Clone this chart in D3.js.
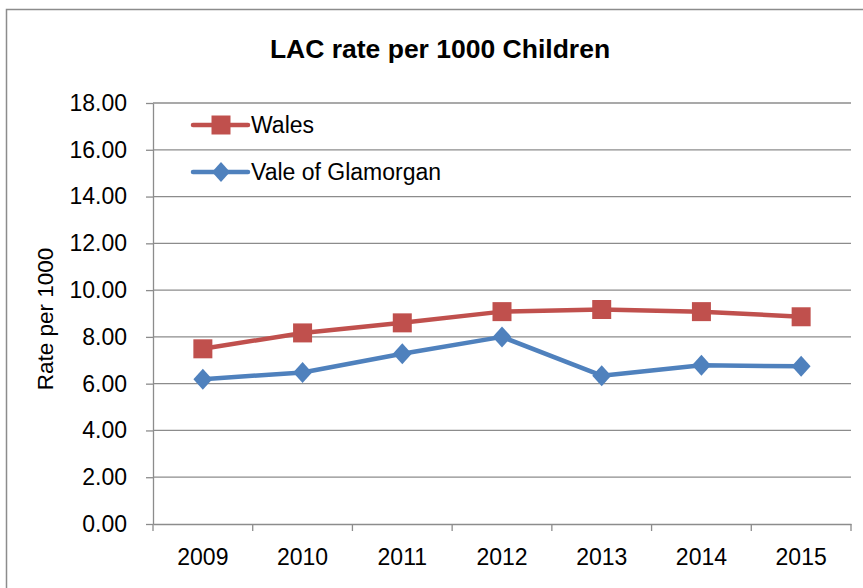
<!DOCTYPE html>
<html>
<head>
<meta charset="utf-8">
<script src="https://cdn.jsdelivr.net/npm/d3@7"></script>
<style>
  body { margin: 0; background: #fff; }
  svg { display: block; font-family: "Liberation Sans", Arial, sans-serif; }
</style>
</head>
<body>
<svg class="chart"></svg>
<script>
var years = ['2009', '2010', '2011', '2012', '2013', '2014', '2015'];
var wales = [7.49, 8.17, 8.60, 9.08, 9.17, 9.08, 8.86];
var vale = [6.19, 6.48, 7.28, 8.00, 6.34, 6.79, 6.74];
var yTicks = [0, 2, 4, 6, 8, 10, 12, 14, 16, 18];
var seriesNames = ['Wales', 'Vale of Glamorgan'];

var settings = {
  width: 863,
  height: 588,
  left: 153,
  right: 851,
  top: 103,
  bottom: 524
};

var svg = d3.select('.chart')
  .attr('width', settings.width)
  .attr('height', settings.height);

// chart frame
svg.append('rect')
  .attr('x', 6.5).attr('y', 9.5)
  .attr('width', 870).attr('height', 600)
  .attr('fill', 'none')
  .attr('stroke', '#8c8c8c')
  .attr('stroke-width', 1.5);

svg.append('text')
  .attr('x', 440).attr('y', 58)
  .attr('text-anchor', 'middle')
  .attr('font-weight', 'bold')
  .attr('font-size', 26.5)
  .text('LAC rate per 1000 Children');

var x = d3.scaleBand().domain(years).range([settings.left, settings.right]);
var y = d3.scaleLinear().domain([0, 18]).range([settings.bottom, settings.top]);

// gridlines
svg.append('g')
  .selectAll('line')
  .data(yTicks.slice(1))
  .enter()
  .append('line')
  .attr('x1', settings.left).attr('x2', settings.right)
  .attr('y1', function(d) { return y(d); })
  .attr('y2', function(d) { return y(d); })
  .attr('stroke', '#8c8c8c')
  .attr('stroke-width', 1.3);

var yAxis = svg.append('g')
  .attr('transform', 'translate(' + settings.left + ',0)')
  .call(d3.axisLeft(y).tickValues(yTicks).tickFormat(d3.format('.2f')).tickSizeInner(7).tickSizeOuter(0).tickPadding(19));
yAxis.selectAll('text').attr('font-size', 23).attr('fill', '#000').attr('font-family', null);
yAxis.selectAll('line, path').attr('stroke', '#8c8c8c').attr('stroke-width', 1.3);

var xAxis = svg.append('g')
  .attr('transform', 'translate(0,' + settings.bottom + ')')
  .call(d3.axisBottom(x).tickSize(0).tickPadding(25));
xAxis.selectAll('text').attr('font-size', 23).attr('fill', '#000').attr('font-family', null);
xAxis.select('path').attr('stroke', '#8c8c8c').attr('stroke-width', 1.5);
// category boundary ticks
xAxis.selectAll('.bound')
  .data(years.concat(['end']))
  .enter()
  .append('line')
  .attr('class', 'bound')
  .attr('x1', function(d, i) { return settings.left + i * x.step(); })
  .attr('x2', function(d, i) { return settings.left + i * x.step(); })
  .attr('y1', 0).attr('y2', 7)
  .attr('stroke', '#8c8c8c')
  .attr('stroke-width', 1.3);

svg.append('text')
  .attr('transform', 'translate(53,319) rotate(-90)')
  .attr('text-anchor', 'middle')
  .attr('font-size', 22.5)
  .text('Rate per 1000');

var line = d3.line()
  .x(function(d, i) { return x(years[i]) + x.bandwidth() / 2; })
  .y(function(d) { return y(d); });

var red = '#c0504d', blue = '#4f81bd';
var square = d3.symbol().type(d3.symbolSquare).size(19 * 19);
var diamond = function(s) {
  return 'M0,' + (-s) + 'L' + (s * 0.9) + ',0L0,' + s + 'L' + (-s * 0.9) + ',0Z';
};

function drawSeries(data, color, marker) {
  svg.append('path')
    .datum(data)
    .attr('d', line)
    .attr('fill', 'none')
    .attr('stroke', color)
    .attr('stroke-width', 4.5)
    .attr('stroke-linejoin', 'round');
  svg.append('g')
    .selectAll('path')
    .data(data)
    .enter()
    .append('path')
    .attr('transform', function(d, i) {
      return 'translate(' + (x(years[i]) + x.bandwidth() / 2) + ',' + y(d) + ')';
    })
    .attr('d', marker)
    .attr('fill', color);
}

drawSeries(wales, red, square());
drawSeries(vale, blue, diamond(10.5));

// legend
var legend = svg.append('g').attr('transform', 'translate(193,125)');
var legendItems = legend.selectAll('g')
  .data(seriesNames)
  .enter()
  .append('g')
  .attr('transform', function(d, i) { return 'translate(0,' + (i * 47) + ')'; });
legendItems.append('line')
  .attr('x1', 0).attr('x2', 55)
  .attr('stroke', function(d, i) { return i ? blue : red; })
  .attr('stroke-width', 4.5)
  .attr('stroke-linecap', 'round');
legendItems.append('path')
  .attr('transform', 'translate(28,0)')
  .attr('d', function(d, i) { return i ? diamond(10) : square(); })
  .attr('fill', function(d, i) { return i ? blue : red; });
legendItems.append('text')
  .attr('x', 58).attr('y', 8)
  .attr('font-size', 23)
  .text(function(d) { return d; });
</script>
</body>
</html>
